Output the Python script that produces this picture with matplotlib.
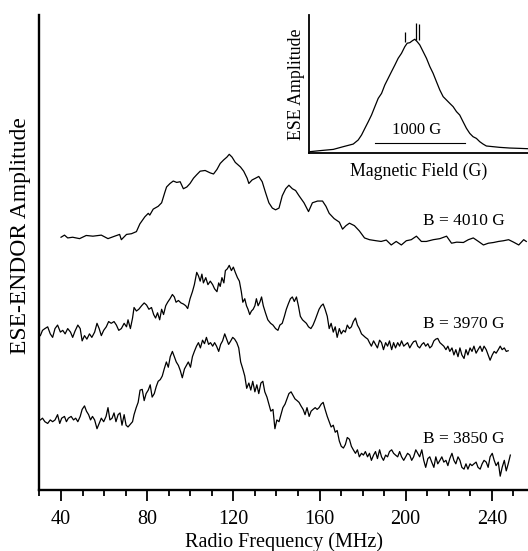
import numpy as np
import matplotlib.pyplot as plt
from matplotlib.ticker import MultipleLocator

plt.rcParams['font.family'] = ['Liberation Serif', 'DejaVu Serif']

# ESE-ENDOR traces: [RF (MHz), amplitude (arb. units)]
b4010 = np.array([
    [40.0, 72.5], [41.6, 73.1], [43.1, 72.3], [45.4, 72.5], [48.6, 72.1], [51.7, 73.0], [54.8, 72.8],
    [58.7, 73.1], [61.8, 72.1], [64.9, 72.8], [67.2, 73.3], [68.0, 71.8], [70.4, 73.3], [72.7, 73.5],
    [75.0, 74.1], [76.6, 76.3], [78.9, 78.3], [80.5, 79.3], [81.2, 78.8], [82.8, 80.5], [85.1, 81.3],
    [86.7, 82.3], [88.2, 85.3], [89.0, 86.8], [90.6, 87.8], [92.1, 88.5], [93.7, 88.1], [95.3, 88.3],
    [96.8, 86.3], [98.4, 86.8], [99.9, 87.8], [101.5, 89.3], [103.0, 90.3], [104.6, 91.3], [106.9, 91.5],
    [109.3, 90.8], [110.8, 90.5], [112.4, 91.8], [113.9, 93.5], [115.5, 94.5], [117.0, 95.3], [118.1, 96.1],
    [119.4, 95.3], [120.9, 93.8], [123.3, 92.5], [124.8, 91.3], [126.4, 89.3], [127.2, 87.8], [128.7, 88.8],
    [130.3, 89.3], [131.8, 89.8], [133.4, 88.3], [134.9, 85.3], [136.5, 82.3], [138.1, 80.8], [139.6, 80.3],
    [141.2, 80.8], [142.7, 84.3], [144.3, 86.3], [145.8, 87.3], [147.4, 86.3], [148.9, 85.8], [150.5, 84.3],
    [152.8, 82.3], [154.9, 79.8], [156.7, 82.3], [159.1, 82.8], [161.4, 82.8], [163.0, 81.3], [164.5, 79.3],
    [166.8, 77.8], [169.2, 76.8], [170.7, 74.8], [172.3, 75.8], [173.9, 76.5], [176.2, 75.8], [178.5, 74.3],
    [180.9, 72.3], [183.2, 71.8], [186.3, 71.5], [188.6, 71.3], [191.0, 71.7], [193.3, 70.3], [195.6, 71.3],
    [198.0, 70.3], [200.3, 71.5], [202.6, 71.8], [205.0, 72.8], [207.3, 71.3], [209.6, 71.3], [212.8, 71.8],
    [215.9, 72.1], [219.0, 72.8], [221.3, 70.8], [223.7, 71.1], [226.8, 71.0], [229.1, 71.8], [231.4, 72.3],
    [233.8, 71.3], [236.1, 70.3], [238.4, 70.8], [240.8, 71.0], [243.1, 71.3], [245.4, 71.5], [247.8, 71.8],
    [250.1, 71.1], [252.5, 70.3], [254.8, 71.8], [256.0, 71.3]])

b3970 = np.array([
    [30.4, 44.5], [31.4, 46.0], [32.5, 46.5], [33.8, 47.0], [35.0, 45.0], [36.1, 44.0], [37.2, 46.5],
    [38.4, 47.5], [39.7, 45.5], [40.8, 46.0], [41.9, 45.0], [43.1, 46.5], [44.4, 45.5], [45.4, 44.0],
    [46.5, 45.8], [47.8, 47.5], [48.9, 46.5], [49.8, 43.0], [50.9, 44.5], [52.0, 43.5], [53.2, 45.0],
    [54.3, 44.0], [55.6, 45.5], [56.7, 48.0], [57.7, 46.5], [58.7, 44.5], [59.8, 46.0], [61.0, 47.0],
    [62.1, 48.5], [63.3, 48.0], [64.6, 48.5], [65.7, 47.5], [66.8, 46.0], [68.0, 46.5], [69.3, 48.0],
    [70.4, 47.0], [71.1, 49.0], [72.2, 46.5], [73.2, 49.5], [73.9, 52.5], [75.0, 51.5], [76.1, 52.0],
    [77.4, 53.0], [78.6, 53.8], [79.7, 53.2], [80.8, 52.0], [82.0, 52.5], [83.0, 50.5], [83.9, 49.5],
    [84.8, 51.0], [85.8, 49.0], [86.7, 52.0], [87.6, 50.5], [88.6, 53.0], [89.5, 54.0], [90.6, 55.0],
    [91.7, 56.2], [92.6, 55.5], [93.4, 54.0], [94.5, 54.5], [95.7, 53.8], [96.8, 53.5], [97.9, 53.0],
    [98.8, 52.2], [99.9, 55.0], [101.0, 57.0], [101.9, 59.0], [103.0, 62.5], [103.8, 61.5], [104.6, 60.0],
    [105.4, 62.0], [106.1, 59.5], [107.2, 61.0], [108.2, 59.0], [109.3, 60.0], [110.4, 59.0], [111.3, 57.8],
    [112.4, 57.0], [113.2, 59.5], [113.9, 58.5], [114.7, 61.0], [115.6, 59.5], [116.3, 63.0], [117.2, 63.5],
    [118.1, 64.5], [119.1, 63.0], [120.0, 64.0], [120.9, 62.5], [121.9, 61.0], [122.8, 60.0], [123.7, 57.0],
    [124.4, 54.0], [125.3, 55.0], [126.1, 53.0], [126.8, 52.0], [127.6, 50.5], [128.4, 51.5], [129.2, 52.0],
    [130.0, 53.0], [130.7, 55.0], [131.5, 53.0], [132.3, 54.0], [133.1, 55.5], [133.9, 53.0], [134.9, 51.0],
    [136.0, 49.0], [137.3, 48.0], [138.4, 47.5], [139.6, 46.5], [140.7, 46.0], [141.6, 47.5], [142.7, 48.0],
    [143.7, 50.0], [144.6, 52.0], [145.5, 53.5], [146.5, 55.0], [147.4, 55.5], [148.3, 54.2], [149.3, 55.5],
    [150.2, 53.0], [151.1, 50.0], [152.1, 49.0], [153.0, 48.5], [153.9, 48.0], [154.9, 47.0], [156.0, 46.5],
    [157.0, 47.5], [158.0, 49.0], [158.9, 50.5], [159.8, 52.0], [160.8, 53.0], [161.7, 53.5], [162.6, 52.0],
    [163.6, 50.0], [164.5, 46.5], [165.4, 48.0], [166.4, 45.5], [167.3, 47.0], [168.2, 44.0], [169.2, 46.5],
    [170.1, 45.0], [171.1, 46.0], [172.0, 45.5], [172.9, 47.5], [173.9, 46.5], [174.8, 47.0], [175.7, 48.5],
    [176.7, 49.5], [177.6, 47.5], [178.5, 46.5], [179.5, 45.0], [180.4, 44.5], [181.3, 44.0], [182.4, 43.5],
    [183.2, 42.5], [184.1, 41.5], [185.1, 43.0], [186.0, 42.0], [186.9, 41.0], [187.9, 43.2], [188.8, 42.5],
    [189.7, 40.5], [190.7, 42.5], [191.6, 41.5], [192.5, 43.0], [193.5, 40.5], [194.4, 42.5], [195.3, 41.0],
    [196.3, 42.5], [197.2, 41.5], [198.1, 43.0], [199.1, 41.5], [200.0, 42.0], [200.9, 42.5], [201.9, 41.0],
    [202.8, 42.0], [203.7, 42.8], [204.7, 43.0], [205.6, 41.5], [206.5, 41.0], [207.5, 42.0], [208.4, 42.5],
    [209.3, 41.5], [210.3, 42.2], [211.2, 41.0], [212.1, 41.5], [213.1, 43.0], [214.0, 43.5], [214.9, 43.7],
    [215.9, 42.5], [216.8, 42.0], [217.7, 41.5], [218.7, 40.5], [219.6, 41.5], [220.5, 40.0], [221.5, 41.0],
    [222.4, 39.0], [223.3, 40.5], [224.3, 38.5], [225.2, 41.0], [226.1, 39.0], [227.1, 38.0], [228.0, 40.5],
    [228.9, 39.0], [229.9, 41.0], [230.8, 40.0], [231.7, 41.5], [232.7, 39.5], [233.6, 40.5], [234.6, 41.5],
    [235.5, 40.0], [236.4, 41.5], [237.4, 40.5], [238.3, 39.0], [239.2, 37.5], [240.2, 39.0], [241.1, 40.0],
    [242.0, 39.5], [243.0, 40.5], [243.9, 41.5], [244.8, 40.5], [245.8, 41.0], [246.7, 40.0], [247.6, 40.2]])

b3850 = np.array([
    [30.4, 20.5], [31.4, 21.0], [32.5, 20.0], [33.8, 19.5], [35.0, 20.5], [36.1, 20.0], [37.2, 20.5],
    [38.4, 22.0], [39.4, 19.5], [40.3, 21.0], [41.6, 21.5], [42.5, 20.0], [43.4, 21.0], [44.7, 21.5],
    [45.8, 20.5], [46.8, 21.0], [47.8, 20.0], [48.9, 21.5], [49.8, 23.5], [50.9, 24.5], [51.8, 23.0],
    [52.8, 22.0], [53.7, 20.5], [54.6, 21.5], [55.6, 20.5], [56.7, 18.0], [57.7, 19.5], [58.7, 21.0],
    [59.8, 20.0], [60.9, 21.5], [61.8, 24.0], [62.7, 20.5], [63.7, 21.0], [64.6, 22.5], [65.5, 20.0],
    [66.5, 22.0], [67.4, 22.5], [68.3, 19.0], [69.3, 22.0], [70.2, 19.0], [71.1, 18.5], [72.1, 19.2],
    [73.2, 20.0], [73.9, 22.0], [74.9, 24.0], [75.8, 25.5], [76.7, 29.0], [77.7, 29.2], [78.6, 26.0],
    [79.5, 28.0], [80.5, 29.0], [81.4, 30.5], [82.3, 27.0], [83.3, 28.0], [84.2, 30.0], [85.1, 31.5],
    [86.1, 32.0], [87.0, 33.0], [87.9, 35.0], [88.9, 37.0], [89.8, 35.5], [90.7, 38.5], [91.7, 40.0],
    [92.6, 38.5], [93.5, 37.0], [94.5, 36.0], [95.4, 34.5], [96.3, 32.5], [97.3, 35.0], [98.2, 36.0],
    [99.1, 37.0], [100.1, 35.5], [101.0, 38.5], [101.9, 40.0], [102.9, 41.5], [103.8, 42.5], [104.7, 41.0],
    [105.7, 43.2], [106.6, 42.2], [107.5, 44.0], [108.5, 42.0], [109.4, 42.5], [110.4, 41.5], [111.3, 42.5],
    [112.2, 41.5], [113.2, 40.0], [114.1, 42.0], [115.0, 43.0], [116.0, 45.0], [116.9, 43.5], [117.8, 42.0],
    [118.8, 43.0], [119.7, 44.0], [120.6, 43.5], [121.6, 42.5], [122.5, 41.0], [123.4, 37.0], [124.4, 35.0],
    [125.3, 33.0], [126.2, 29.5], [127.2, 31.0], [128.1, 29.0], [129.0, 31.5], [130.0, 28.5], [130.9, 30.5],
    [131.8, 28.0], [132.8, 31.0], [133.7, 31.5], [134.6, 28.5], [135.6, 27.0], [136.5, 25.0], [137.4, 23.0],
    [138.4, 23.5], [139.3, 18.0], [140.2, 20.5], [141.2, 20.0], [142.1, 22.0], [143.0, 24.0], [144.0, 25.0],
    [144.9, 26.5], [145.8, 28.0], [146.8, 28.5], [147.7, 27.5], [148.6, 26.5], [149.6, 26.0], [150.5, 25.5],
    [151.4, 24.5], [152.4, 23.5], [153.3, 22.0], [154.2, 24.0], [155.2, 21.5], [156.1, 23.0], [157.0, 23.5],
    [158.0, 24.0], [158.9, 23.5], [159.8, 24.0], [160.8, 25.0], [161.7, 25.5], [162.6, 23.5], [163.6, 21.5],
    [164.5, 20.0], [165.4, 18.5], [166.4, 19.0], [167.3, 17.0], [168.2, 17.5], [169.2, 14.5], [170.1, 13.0],
    [171.1, 12.5], [172.0, 13.5], [172.9, 15.5], [173.9, 15.0], [174.8, 13.0], [175.7, 12.0], [176.7, 11.0],
    [177.6, 12.0], [178.5, 10.0], [179.5, 11.0], [180.4, 10.5], [181.3, 11.5], [182.3, 10.0], [183.2, 11.0],
    [184.1, 9.0], [185.1, 10.5], [186.0, 11.5], [186.9, 9.5], [187.9, 12.0], [188.8, 10.0], [189.7, 9.0],
    [190.7, 10.5], [191.6, 10.0], [192.5, 11.5], [193.5, 12.0], [194.4, 11.0], [195.3, 10.5], [196.3, 10.0],
    [197.2, 11.5], [198.1, 10.0], [199.1, 9.0], [200.0, 10.0], [200.9, 11.0], [201.9, 10.5], [202.8, 9.0],
    [203.7, 10.0], [204.7, 12.0], [205.6, 11.0], [206.5, 10.0], [207.5, 12.0], [208.4, 9.0], [209.3, 7.0],
    [210.3, 9.5], [211.2, 10.0], [212.1, 8.5], [213.1, 7.0], [214.0, 10.0], [214.9, 8.0], [215.9, 9.0],
    [216.8, 10.0], [217.7, 8.5], [218.7, 9.0], [219.6, 7.5], [220.5, 9.5], [221.5, 11.0], [222.4, 9.0],
    [223.3, 8.0], [224.3, 10.0], [225.2, 9.0], [226.1, 7.0], [227.1, 6.5], [228.0, 8.0], [228.9, 6.5],
    [229.9, 8.0], [230.8, 7.5], [231.7, 8.0], [232.7, 8.5], [233.6, 7.0], [234.6, 6.5], [235.5, 8.0],
    [236.4, 9.0], [237.4, 8.5], [238.3, 7.0], [239.2, 10.0], [240.2, 11.0], [241.1, 9.0], [242.0, 7.5],
    [243.0, 8.5], [243.9, 4.5], [244.8, 7.0], [245.8, 9.0], [246.7, 6.0], [247.6, 8.0], [248.6, 10.5]])

traces = [b4010, b3970, b3850]
trace_labels = ['B = 4010 G', 'B = 3970 G', 'B = 3850 G']

# inset: echo-detected field sweep [field (G), ESE amplitude]
ese = np.array([
    [2803, 1.5], [2913, 2.4], [3060, 3.5], [3170, 5.9], [3280, 8.2], [3335, 11.8], [3372, 16.2],
    [3409, 22.1], [3446, 27.9], [3482, 33.8], [3519, 41.2], [3556, 48.5], [3593, 52.9], [3629, 60.3],
    [3666, 66.2], [3703, 72.1], [3740, 77.9], [3776, 83.8], [3813, 88.2], [3850, 94.1], [3876, 97.1],
    [3905, 97.6], [3935, 99.4], [3960, 100.6], [3986, 98.5], [4015, 95.6], [4052, 89.7], [4089, 83.8],
    [4126, 76.5], [4162, 70.6], [4199, 63.2], [4236, 55.9], [4273, 50.0], [4309, 47.1], [4346, 44.1],
    [4383, 41.2], [4420, 36.8], [4456, 33.8], [4493, 27.9], [4530, 22.1], [4567, 17.6], [4603, 14.7],
    [4640, 13.2], [4677, 10.3], [4714, 8.2], [4750, 6.5], [4824, 5.9], [4897, 5.3], [5008, 4.7],
    [5118, 4.4], [5210, 4.1]])
marked_fields = [3850, 3970, 4010]
scale_start = 3519
scale_len = 1000

fig = plt.figure(figsize=(5.28, 5.51), dpi=100)
ax = fig.add_axes([0.0748, 0.1116, 0.9252, 0.8615])

for d in traces:
    ax.plot(d[:, 0], d[:, 1], color='black', lw=0.9)

label_y = [77.2, 47.9, 15.0]
for lab, yy in zip(trace_labels, label_y):
    ax.text(227.2, yy, lab, ha='center', va='center', fontsize=12.5)

ax.set_xlim(30, 256.8)
ax.set_ylim(0.7, 135.8)
ax.spines['top'].set_visible(False)
ax.spines['right'].set_visible(False)
ax.spines['left'].set_linewidth(1.7)
ax.spines['bottom'].set_linewidth(1.7)
ax.set_xticks(range(40, 241, 40))
ax.xaxis.set_minor_locator(MultipleLocator(10))
ax.tick_params(axis='x', which='major', length=8, width=1.3, labelsize=14.5, pad=7)
ax.tick_params(axis='x', which='minor', length=4.5, width=1.3)
ax.set_yticks([])
ax.set_xlabel('Radio Frequency (MHz)', fontsize=14.5, labelpad=2)
ax.set_ylabel('ESE-ENDOR Amplitude', fontsize=17)
ax.yaxis.set_label_coords(-0.018, 0.536)

# inset
ax_in = fig.add_axes([0.5858, 0.7229, 0.4142, 0.2499])
ax_in.plot(ese[:, 0], ese[:, 1], color='black', lw=0.9)
ax_in.vlines(marked_fields, [98, 100, 100], [107, 115, 114], color='black', lw=0.9)
ax_in.plot([scale_start, scale_start + scale_len], [8.8, 8.8], color='black', lw=0.8)
ax_in.text(scale_start + scale_len / 2 - 40, 21, '1000 G', ha='center', va='center', fontsize=12)
ax_in.set_xlim(2795, 5210)
ax_in.set_ylim(0.6, 122)
ax_in.spines['top'].set_visible(False)
ax_in.spines['right'].set_visible(False)
ax_in.spines['left'].set_linewidth(1.3)
ax_in.spines['bottom'].set_linewidth(1.3)
ax_in.set_xticks([])
ax_in.set_yticks([])
ax_in.set_xlabel('Magnetic Field (G)', fontsize=12.8, labelpad=7)
ax_in.set_ylabel('ESE Amplitude', fontsize=12.8, labelpad=3)

fig.savefig('out.png', dpi=100)
